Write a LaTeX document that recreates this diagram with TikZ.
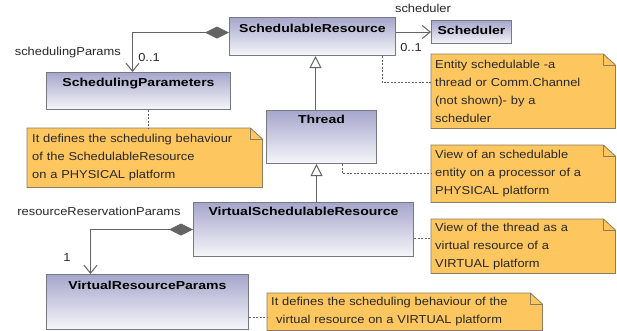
\documentclass[tikz,border=0pt]{standalone}
\usepackage{fontspec}
\setmainfont{Liberation Sans}[FakeStretch=1.12]
\newfontfamily\clsfont{Liberation Sans}[FakeStretch=1.22]
\usetikzlibrary{arrows.meta,calc,backgrounds}

\definecolor{boxtop}{RGB}{166,166,204}
\definecolor{boxbot}{RGB}{246,246,250}
\definecolor{boxline}{RGB}{120,120,128}
\definecolor{notefill}{RGB}{253,198,94}
\definecolor{noteline}{RGB}{140,124,96}
\definecolor{wire}{RGB}{100,100,100}
\definecolor{txt}{RGB}{40,40,40}

\tikzset{
  classbox/.style={draw=boxline, line width=1pt, top color=boxtop, bottom color=boxbot,
    anchor=north west, inner sep=0pt},
  clsname/.style={anchor=north, yshift=-4pt, text=black,
    font=\clsfont\bfseries\fontsize{11.5}{14}\selectfont},
  notebox/.style={anchor=north west, inner xsep=4pt, inner ysep=0pt, align=left,
    text=txt, font=\fontsize{11.5}{18}\selectfont},
  notebody/.style={fill=notefill, draw=noteline, line width=0.8pt, line join=miter},
  role/.style={font=\fontsize{11.5}{14}\selectfont, text=txt, inner sep=0pt},
  wireline/.style={draw=wire, line width=1pt},
  comp/.style={wireline, {Diamond[length=24pt,width=12pt,fill=wire]}-{Straight Barb[length=8pt,width=13pt]}},
  nav/.style={wireline, -{Straight Barb[length=8pt,width=13pt]}},
  gen/.style={wireline, -{Triangle[open,length=12pt,width=12pt,fill=white]}},
  anchorline/.style={draw=wire, line width=0.9pt, dash pattern=on 2pt off 1.5pt},
}

% UML note outline with a folded top-right corner
\newcommand{\notefold}[1]{%
  \path[notebody] (#1.north west) -- ([xshift=-12pt]#1.north east)
    -- ([yshift=-11pt]#1.north east) -- (#1.south east) -- (#1.south west) -- cycle;
  \draw[noteline, line width=0.8pt] ([xshift=-12pt]#1.north east)
    -- ([xshift=-12pt,yshift=-11pt]#1.north east) -- ([yshift=-11pt]#1.north east);
}

\begin{document}
\begin{tikzpicture}[x=1pt,y=-1pt]
\useasboundingbox (0,0) rectangle (617,330);

% classes
\node[classbox, minimum width=166pt, minimum height=38pt,
  label={[clsname]north:SchedulableResource}] (sr) at (229,17) {};
\node[classbox, minimum width=80pt, minimum height=23pt,
  label={[clsname, yshift=1pt]north:Scheduler}] (sch) at (431,20) {};
\node[classbox, minimum width=184pt, minimum height=37pt,
  label={[clsname, yshift=1pt]north:SchedulingParameters}] (sp) at (46,72) {};
\node[classbox, minimum width=110pt, minimum height=53pt,
  label={[clsname, yshift=2pt]north:Thread}] (thr) at (266,110) {};
\node[classbox, minimum width=220pt, minimum height=54pt,
  label={[clsname, yshift=2pt]north:VirtualSchedulableResource}] (vsr) at (193,202) {};
\node[classbox, minimum width=202pt, minimum height=55pt,
  label={[clsname]north:VirtualResourceParams}] (vrp) at (46,274) {};

% notes
\node[notebox, text width=176pt, minimum height=74pt] (n1) at (431,54)
  {Entity schedulable -a\\thread or Comm.Channel\\(not shown)- by a\\scheduler};
\node[notebox, inner xsep=5pt, text width=225pt, minimum height=59pt] (n2) at (27,128)
  {It defines the scheduling behaviour\\of the SchedulableResource\\on a PHYSICAL platform};
\node[notebox, text width=176pt, minimum height=57pt] (n3) at (431,145)
  {View of an schedulable\\entity on a processor of a\\PHYSICAL platform};
\node[notebox, text width=176pt, minimum height=54pt] (n4) at (431,219)
  {View of the thread as a\\virtual resource of a\\VIRTUAL platform};
\node[notebox, text width=267pt, minimum height=37pt] (n5) at (267,293)
  {It defines the scheduling behaviour of the\\\hspace*{5pt}virtual resource on a VIRTUAL platform};

\begin{scope}[on background layer]
  \fill[white] (0,0) rectangle (617,330);
  \notefold{n1}
  \notefold{n2}
  \notefold{n3}
  \notefold{n4}
  \notefold{n5}
\end{scope}

% role names and multiplicities
\node[role, anchor=east] (lblSP) at (121,53) {schedulingParams};
\node[role] (mSP) at (149,58) {0..1};
\node[role] (lblSch) at (423,8) {scheduler};
\node[role] (mSch) at (411,48) {0..1};
\node[role] (lblRR) at (99,211) {resourceReservationParams};
\node[role] (mRR) at (67,258) {1};

% associations
\draw[comp] ([yshift=4pt]sr.west) -| ([xshift=-6pt]sp.north);
\draw[nav] (sr.east |- sch.west) -- (sch.west);
\draw[comp] (vsr.west) -| ([xshift=-57pt]vrp.north);

% generalizations
\coordinate (g1) at ([xshift=-6pt]thr.north);
\draw[gen] (g1) -- (g1 |- sr.south);
\coordinate (g2) at ([xshift=13pt]vsr.north);
\draw[gen] (g2) -- (g2 |- thr.south);

% note anchors
\coordinate (a1) at ([yshift=9pt]n1.west);
\draw[anchorline] ([xshift=-14pt]sr.south east) |- (a1);
\coordinate (a2) at ([xshift=10pt]sp.south);
\draw[anchorline] (a2) -- (a2 |- n2.north);
\draw[anchorline] ([xshift=21pt]thr.south) |- (n3.west);
\coordinate (a4) at ([yshift=-9pt]vsr.east);
\draw[anchorline] (a4) -- (a4 -| n4.west);
\coordinate (a5) at ([yshift=-6pt]n5.west);
\draw[anchorline] (a5 -| vrp.east) -- (a5);
\end{tikzpicture}
\end{document}
